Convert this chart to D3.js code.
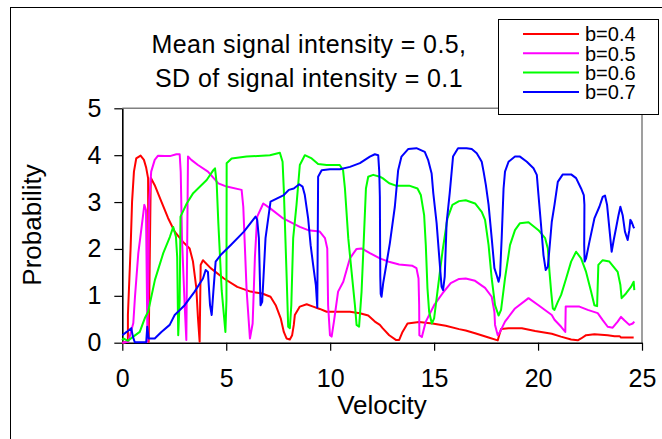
<!DOCTYPE html>
<html>
<head>
<meta charset="utf-8">
<script src="https://cdn.jsdelivr.net/npm/d3@7"></script>
<style>
    body { margin: 0; background: #fff; }
    text { font-family: "Liberation Sans", Arial, sans-serif; fill: #000; }
</style>
</head>
<body>
<div id="chart"></div>
<script>
// series data: [velocity, probability]
const seriesNames = ["b=0.4", "b=0.5", "b=0.6", "b=0.7"];
const seriesColors = ["#FF0000", "#FF00FF", "#00FF00", "#0000FF"];

const b04 = [[0,0],[0.27,0.02],[0.27,0.59],[0.40,2.02],[0.47,3.01],[0.56,3.65],[0.67,3.93],[0.88,3.99],[1.04,3.90],[1.15,3.73],[1.24,3.51],[1.27,0.02],[1.37,3.52],[1.56,3.36],[1.88,3.01],[2.20,2.66],[2.52,2.37],[2.92,2.15],[3.24,2.01],[3.40,1.73],[3.56,1.17],[3.64,0.53],[3.72,0.02],[3.77,1.66],[3.88,1.76],[4.25,1.59],[4.89,1.37],[5.53,1.19],[6.17,1.09],[6.73,1.05],[7.13,0.98],[7.38,0.80],[7.62,0.52],[7.77,0.23],[7.90,0.09],[8.06,0.07],[8.17,0.16],[8.25,0.38],[8.30,0.59],[8.54,0.77],[8.87,0.82],[9.18,0.77],[9.50,0.72],[9.83,0.66],[10.31,0.66],[10.95,0.66],[11.43,0.63],[11.83,0.58],[12.15,0.45],[12.39,0.38],[12.52,0.31],[12.84,0.16],[13.16,0.06],[13.32,0.06],[13.48,0.23],[13.72,0.41],[14.28,0.44],[14.92,0.41],[15.56,0.36],[16.20,0.29],[16.52,0.26],[16.97,0.20],[17.62,0.11],[18.06,0.05],[18.13,0.16],[18.22,0.29],[18.58,0.31],[19.22,0.31],[19.86,0.25],[20.66,0.19],[21.10,0.13],[21.59,0.07],[21.91,0.05],[22.07,0.09],[22.31,0.16],[22.71,0.18],[23.35,0.16],[23.68,0.14],[23.92,0.14],[23.99,0.11],[24.60,0.11]];

const b05 = [[0,0],[0.29,0.02],[0.53,0.42],[0.61,0.98],[0.77,1.91],[0.93,2.47],[1.06,2.94],[1.14,2.83],[1.21,0.02],[1.30,3.04],[1.39,3.65],[1.56,3.90],[1.72,3.99],[2.05,3.98],[2.29,3.98],[2.60,4.02],[2.76,4.02],[2.81,3.65],[2.87,2.23],[3.00,0.80],[3.08,0.06],[3.16,3.97],[3.32,3.90],[3.64,3.79],[4.12,3.65],[4.62,3.40],[5.02,3.33],[5.74,3.26],[5.82,2.90],[5.98,1.12],[6.14,0.09],[6.27,0.41],[6.38,1.83],[6.49,2.69],[6.78,2.97],[7.10,2.87],[7.74,2.65],[8.54,2.47],[8.94,2.40],[9.50,2.37],[9.75,2.23],[9.86,2.01],[9.90,0.80],[9.99,0.16],[10.07,0.13],[10.18,0.45],[10.38,1.09],[10.63,1.30],[10.95,1.80],[11.27,2.00],[11.51,2.01],[11.91,1.91],[12.39,1.80],[12.87,1.72],[13.32,1.67],[13.96,1.64],[14.15,1.59],[14.25,1.37],[14.28,0.80],[14.29,0.16],[14.41,0.12],[14.60,0.45],[15.00,0.80],[15.40,1.05],[15.80,1.27],[16.20,1.36],[16.52,1.37],[16.97,1.32],[17.45,1.17],[17.77,0.98],[17.90,0.66],[17.93,0.38],[18.06,0.16],[18.17,0.23],[18.41,0.45],[18.89,0.73],[19.54,0.95],[20.02,0.80],[20.66,0.59],[20.79,0.49],[21.11,0.34],[21.31,0.23],[21.33,0.77],[21.99,0.77],[22.39,0.70],[22.87,0.63],[23.11,0.48],[23.35,0.34],[23.59,0.32],[23.83,0.45],[23.99,0.55],[24.15,0.48],[24.39,0.38],[24.55,0.41],[24.63,0.45]];

const b06 = [[0,0.05],[0.05,0.09],[0.27,0.04],[0.53,0.13],[0.84,0.23],[1.08,0.52],[1.24,0.66],[1.33,0.84],[1.57,1.34],[1.97,1.91],[2.29,2.26],[2.45,2.47],[2.58,2.26],[2.64,1.83],[2.69,0.16],[2.76,0.91],[2.80,2.69],[3.10,2.97],[3.41,3.19],[3.74,3.33],[4.06,3.47],[4.38,3.68],[4.46,3.72],[4.54,3.40],[4.62,2.55],[4.78,1.12],[4.96,0.23],[5.01,0.91],[5.02,3.83],[5.26,3.93],[5.98,3.97],[7.10,4.00],[7.58,4.05],[7.71,3.86],[7.77,3.26],[7.90,1.48],[7.98,0.34],[8.06,0.31],[8.13,0.80],[8.22,2.23],[8.38,2.94],[8.54,3.79],[8.78,4.00],[9.11,3.93],[9.42,3.81],[9.83,3.79],[10.46,3.79],[10.62,3.68],[10.71,3.29],[10.87,2.23],[11.03,1.51],[11.19,0.80],[11.27,0.38],[11.39,0.34],[11.51,1.09],[11.62,2.23],[11.72,3.29],[11.83,3.54],[12.07,3.58],[12.39,3.54],[12.52,3.51],[12.84,3.40],[13.16,3.35],[13.80,3.35],[14.20,3.29],[14.36,3.15],[14.52,2.72],[14.60,2.08],[14.68,1.16],[14.76,0.66],[14.89,0.41],[15.00,0.52],[15.16,1.09],[15.40,1.94],[15.64,2.65],[15.88,2.94],[16.20,3.02],[16.52,3.04],[16.97,2.97],[17.29,2.79],[17.45,2.62],[17.62,2.08],[17.77,1.37],[17.93,0.80],[18.10,0.58],[18.22,0.70],[18.41,1.37],[18.65,2.08],[18.89,2.40],[19.13,2.55],[19.54,2.57],[20.02,2.40],[20.34,2.23],[20.47,2.01],[20.55,1.51],[20.63,1.09],[20.71,0.73],[20.79,0.70],[20.95,0.87],[21.11,1.02],[21.35,1.37],[21.59,1.73],[21.83,1.94],[22.07,1.80],[22.31,1.51],[22.55,1.09],[22.71,0.80],[22.84,0.78],[22.90,1.66],[23.11,1.76],[23.43,1.73],[23.83,1.51],[23.96,1.23],[24.02,0.95],[24.23,1.05],[24.47,1.19],[24.60,1.30],[24.63,1.12]];

const b07 = [[0,0.16],[0.21,0.23],[0.43,0.31],[0.51,0.13],[0.60,0.01],[1.15,0.01],[1.20,0.34],[1.27,0.09],[1.56,0.09],[1.88,0.23],[2.28,0.38],[2.52,0.59],[3.00,0.80],[3.48,1.09],[3.88,1.37],[4.01,1.55],[4.12,1.51],[4.22,0.80],[4.30,0.59],[4.38,1.09],[4.49,1.73],[4.73,1.87],[5.21,2.08],[5.85,2.37],[6.41,2.69],[6.49,2.62],[6.57,2.23],[6.65,0.80],[6.73,0.87],[6.89,2.23],[7.13,3.01],[7.45,3.08],[7.77,3.15],[8.01,3.26],[8.25,3.29],[8.51,3.38],[8.67,3.33],[8.78,3.15],[8.94,2.65],[9.06,2.08],[9.18,1.66],[9.31,1.23],[9.38,0.75],[9.42,3.54],[9.59,3.68],[9.99,3.70],[10.47,3.70],[10.95,3.75],[11.43,3.83],[11.91,3.97],[12.15,4.02],[12.31,4.00],[12.36,3.65],[12.39,3.11],[12.41,1.41],[12.43,1.04],[12.47,0.98],[12.55,1.27],[12.71,1.69],[12.87,2.12],[13.11,2.90],[13.27,3.68],[13.43,3.97],[13.75,4.13],[14.15,4.15],[14.55,4.07],[14.71,3.90],[14.88,3.61],[14.96,3.19],[15.12,2.55],[15.27,1.69],[15.36,1.19],[15.43,1.12],[15.51,1.41],[15.60,2.55],[15.75,3.19],[15.91,3.97],[16.15,4.15],[16.56,4.15],[16.81,4.13],[17.05,4.04],[17.20,3.93],[17.29,3.86],[17.38,3.65],[17.49,3.36],[17.62,2.94],[17.77,2.23],[17.90,1.59],[18.01,1.44],[18.10,1.30],[18.17,1.44],[18.25,2.23],[18.34,3.29],[18.41,3.65],[18.58,3.86],[18.89,3.97],[19.13,3.97],[19.46,3.86],[19.78,3.72],[19.94,3.58],[20.02,3.15],[20.13,2.58],[20.26,1.87],[20.37,1.55],[20.47,1.62],[20.55,2.01],[20.66,2.58],[20.79,2.94],[20.95,3.43],[21.19,3.59],[21.59,3.59],[21.83,3.51],[22.07,3.29],[22.20,3.15],[22.23,2.94],[22.22,2.08],[22.24,1.73],[22.31,1.80],[22.47,2.15],[22.71,2.65],[22.95,2.90],[23.11,3.11],[23.22,3.14],[23.32,2.94],[23.43,2.44],[23.54,1.94],[23.64,2.19],[23.75,2.44],[23.87,2.72],[23.96,2.90],[24.07,2.72],[24.18,2.37],[24.31,2.19],[24.39,2.40],[24.44,2.62],[24.50,2.58],[24.59,2.47],[24.63,2.44]];

const xTicks = [0, 5, 10, 15, 20, 25];
const yTicks = [0, 1, 2, 3, 4, 5];
const titleLines = ["Mean signal intensity = 0.5,", "SD of signal intensity = 0.1"];

class VelocityChart {
    constructor(_parentElement, _series) {
        this.parentElement = _parentElement;
        this.series = _series;
        this.initVis();
    }

    initVis() {
        let vis = this;

        vis.width = 662;
        vis.height = 439;
        vis.plot = { left: 122.3, right: 642, top: 108.3, bottom: 342.7 };

        vis.svg = d3
            .select(`#${vis.parentElement}`)
            .append("svg")
            .attr("width", vis.width)
            .attr("height", vis.height);

        // outer chart frame
        vis.svg
            .append("rect")
            .attr("x", 10.5)
            .attr("y", 7.5)
            .attr("width", 700)
            .attr("height", 500)
            .attr("fill", "#fff")
            .attr("stroke", "#000")
            .attr("stroke-width", 1);

        vis.x = d3.scaleLinear().domain([0, 25]).range([vis.plot.left, vis.plot.right]);
        vis.y = d3.scaleLinear().domain([0, 5]).range([vis.plot.bottom, vis.plot.top]);

        vis.updateVis();
    }

    updateVis() {
        let vis = this;

        // plot area border (grey top + right)
        vis.svg
            .append("path")
            .attr("d", `M${vis.plot.left},${vis.plot.top}H${vis.plot.right}V${vis.plot.bottom}`)
            .attr("fill", "none")
            .attr("stroke", "#808080")
            .attr("stroke-width", 1.5);

        // axes
        const xAxis = d3.axisBottom(vis.x).tickValues(xTicks).tickFormat(d3.format("d"))
            .tickSize(8).tickSizeOuter(0).tickPadding(19);
        const yAxis = d3.axisLeft(vis.y).tickValues(yTicks).tickFormat(d3.format("d"))
            .tickSize(8).tickSizeOuter(0).tickPadding(13);

        const gx = vis.svg
            .append("g")
            .attr("transform", `translate(0,${vis.plot.bottom})`)
            .call(xAxis);
        const gy = vis.svg
            .append("g")
            .attr("transform", `translate(${vis.plot.left},0)`)
            .call(yAxis);

        [gx, gy].forEach((g) => {
            g.select(".domain").attr("stroke", "#000").attr("stroke-width", 1.6);
            g.selectAll(".tick line").attr("stroke", "#000").attr("stroke-width", 1.2);
            g.selectAll(".tick text")
                .attr("font-size", 25)
                .attr("font-family", "Liberation Sans, Arial, sans-serif")
                .attr("fill", "#000");
        });

        // lines
        const line = d3
            .line()
            .x((d) => vis.x(d[0]))
            .y((d) => vis.y(d[1]));

        vis.svg
            .selectAll(".series")
            .data(vis.series)
            .enter()
            .append("path")
            .attr("class", "series")
            .attr("d", (d) => line(d.values))
            .attr("fill", "none")
            .attr("stroke", (d) => d.color)
            .attr("stroke-width", 2)
            .attr("stroke-linejoin", "round");

        // title
        vis.svg
            .selectAll(".title")
            .data(titleLines)
            .enter()
            .append("text")
            .attr("class", "title")
            .attr("x", 309)
            .attr("y", (d, i) => 53 + i * 34)
            .attr("text-anchor", "middle")
            .attr("font-size", 25)
            .attr("letter-spacing", 0.4)
            .text((d) => d);

        // axis titles
        vis.svg
            .append("text")
            .attr("x", 382)
            .attr("y", 414)
            .attr("text-anchor", "middle")
            .attr("font-size", 26)
            .text("Velocity");

        vis.svg
            .append("text")
            .attr("transform", "translate(41,225) rotate(-90)")
            .attr("text-anchor", "middle")
            .attr("font-size", 26)
            .text("Probability");

        // legend
        const legend = vis.svg.append("g");
        legend
            .append("rect")
            .attr("x", 498.5)
            .attr("y", 19.5)
            .attr("width", 160)
            .attr("height", 95)
            .attr("fill", "#fff")
            .attr("stroke", "#000")
            .attr("stroke-width", 1);

        const item = legend
            .selectAll(".item")
            .data(vis.series)
            .enter()
            .append("g")
            .attr("class", "item")
            .attr("transform", (d, i) => `translate(0,${34 + i * 19.3})`);

        item.append("line")
            .attr("x1", 523)
            .attr("x2", 579)
            .attr("stroke", (d) => d.color)
            .attr("stroke-width", 2);

        item.append("text")
            .attr("x", 585)
            .attr("dy", "0.36em")
            .attr("font-size", 20)
            .text((d) => d.name);
    }
}

const seriesData = [b04, b05, b06, b07].map((values, i) => ({
    name: seriesNames[i],
    color: seriesColors[i],
    values: values,
}));

new VelocityChart("chart", seriesData);
</script>
</body>
</html>
